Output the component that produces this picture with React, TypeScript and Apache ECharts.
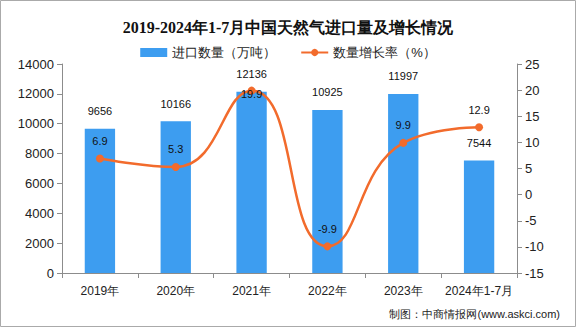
import React, { useEffect, useRef } from "react";
import * as echarts from "echarts";

const categories = ["2019年", "2020年", "2021年", "2022年", "2023年", "2024年1-7月"];
const importVolume = [9656, 10166, 12136, 10925, 11997, 7544];
const growthRate = [6.9, 5.3, 19.9, -9.9, 9.9, 12.9];

export default function App() {
  const ref = useRef<HTMLDivElement>(null);
  useEffect(() => {
    if (!ref.current) return;
    const chart = echarts.init(ref.current, null, { renderer: "svg" });
    const axisLine = { show: true, lineStyle: { color: "#8c8c8c", width: 1 } };
    const lineData = growthRate.map((v, i) =>
      i === 2 ? { value: v, label: { position: "inside", offset: [0, 3] } } : v
    );
    chart.setOption({
      animation: false,
      backgroundColor: "#fff",
      title: {
        text: "2019-2024年1-7月中国天然气进口量及增长情况",
        left: "center",
        top: 14,
        textStyle: { fontFamily: "serif", fontSize: 16, fontWeight: "bold", color: "#111" },
      },
      legend: {
        top: 41,
        left: "center",
        itemGap: 24,
        itemWidth: 27,
        itemHeight: 9,
        textStyle: { fontSize: 13, color: "#222", fontFamily: "sans-serif" },
        data: [
          { name: "进口数量（万吨）", icon: "rect" },
          { name: "数量增长率（%）" },
        ],
      },
      grid: { left: 62, right: 59, top: 64, bottom: 54, containLabel: false },
      xAxis: {
        type: "category",
        data: categories,
        axisLine,
        axisTick: { show: true, length: 5, lineStyle: { color: "#8c8c8c" } },
        axisLabel: { color: "#222", fontSize: 12, margin: 12, interval: 0 },
      },
      yAxis: [
        {
          type: "value",
          min: 0,
          max: 14000,
          interval: 2000,
          axisLine,
          axisTick: { show: true, length: 5, lineStyle: { color: "#8c8c8c" } },
          splitLine: { show: false },
          axisLabel: { color: "#222", fontSize: 13, margin: 8, formatter: (v: number) => String(v) },
        },
        {
          type: "value",
          min: -15,
          max: 25,
          interval: 5,
          axisLine,
          axisTick: { show: true, length: 5, lineStyle: { color: "#8c8c8c" } },
          splitLine: { show: false },
          axisLabel: { color: "#222", fontSize: 13, margin: 8 },
        },
      ],
      series: [
        {
          name: "进口数量（万吨）",
          type: "bar",
          data: importVolume,
          barWidth: "40%",
          itemStyle: { color: "#3d9df0" },
          label: { show: true, position: "top", distance: 12, color: "#111", fontSize: 11 },
        },
        {
          name: "数量增长率（%）",
          type: "line",
          yAxisIndex: 1,
          data: lineData,
          smooth: 0.5,
          symbol: "circle",
          symbolSize: 8,
          lineStyle: { color: "#f26b2c", width: 2.5 },
          itemStyle: { color: "#f26b2c" },
          label: { show: true, position: "top", distance: 8, color: "#111", fontSize: 11 },
        },
      ],
      graphic: [
        {
          type: "rect",
          shape: { x: 0.5, y: 0.5, width: 575, height: 326 },
          style: { fill: "none", stroke: "#aaa", lineWidth: 1 },
          silent: true,
        },
        {
          type: "text",
          right: 16,
          bottom: 8,
          style: { text: "制图：中商情报网(www.askci.com)", fill: "#222", fontSize: 11 },
        },
      ],
    });
    return () => chart.dispose();
  }, []);
  return (
    <div
      ref={ref}
      style={{ position: "absolute", left: 0, top: 0, width: 576, height: 327 }}
    />
  );
}
